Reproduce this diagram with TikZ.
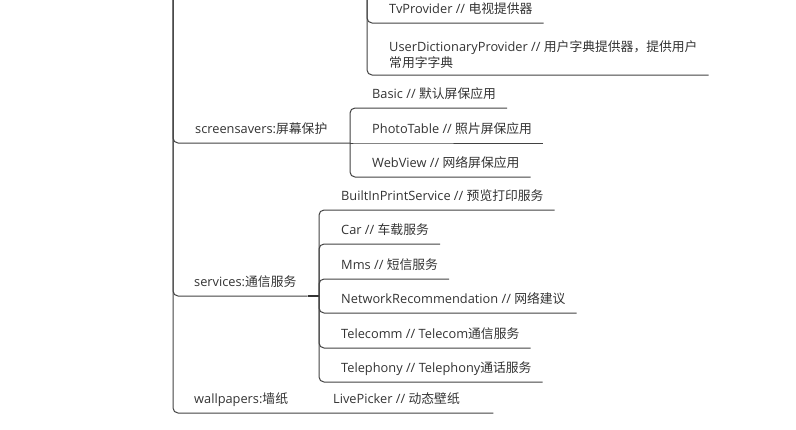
\documentclass[tikz,border=0pt]{standalone}
\usepackage{fontspec}
\setmainfont{Open Sans}
\newfontfamily\cjk{Noto Sans CJK SC}
\definecolor{branchgray}{HTML}{424242}
\definecolor{topictext}{HTML}{333333}

\begin{document}
\begin{tikzpicture}[x=1pt, y=-1pt,
	topic/.style={anchor=south west, inner xsep=11pt, inner ysep=6pt, text height=9.5pt, text depth=3pt, text=topictext, font=\fontsize{12.8}{16}\selectfont, align=left},
	branch/.style={draw=branchgray, line width=1pt, rounded corners=5pt}]
	\useasboundingbox (0,0) rectangle (796,429);
	% Topics:
	\node[topic] (tvp) at (378, 23) {TvProvider // {\cjk 电视提供器}};
	\node[topic, text height={}, text depth={}] (udp) at (378, 75) {UserDictionaryProvider // {\cjk 用户字典提供器，提供用户}\\{\cjk 常用字字典}};
	\node[topic] (scr) at (184, 143) {screensavers:{\cjk 屏幕保护}};
	\node[topic] (basic) at (361, 108) {Basic // {\cjk 默认屏保应用}};
	\node[topic] (photo) at (361, 143) {PhotoTable // {\cjk 照片屏保应用}};
	\node[topic] (webview) at (361, 177) {WebView // {\cjk 网络屏保应用}};
	\node[topic] (svc) at (183, 296) {services:{\cjk 通信服务}};
	\node[topic] (bips) at (330, 210) {BuiltInPrintService // {\cjk 预览打印服务}};
	\node[topic] (car) at (330, 244) {Car // {\cjk 车载服务}};
	\node[topic] (mms) at (330, 279) {Mms // {\cjk 短信服务}};
	\node[topic] (netrec) at (330, 313) {NetworkRecommendation // {\cjk 网络建议}};
	\node[topic] (tcom) at (330, 348) {Telecomm // Telecom{\cjk 通信服务}};
	\node[topic] (tphn) at (330, 382) {Telephony // Telephony{\cjk 通话服务}};
	\node[topic] (wall) at (183, 413) {wallpapers:{\cjk 墙纸}};
	\node[topic, text width=149pt, align=flush left] (live) at (322, 413) {LivePicker // {\cjk 动态壁纸}};
	% Forks:
	\coordinate (topfork) at (367, 0);
	\coordinate (trunk) at (173, 0);
	\coordinate (scrfork) at (350, 143);
	\coordinate (svcfork) at (319, 296);
	% Branches:
	\draw[branch] (topfork) |- (tvp.south west) -- (tvp.south east);
	\draw[branch] (topfork) |- (udp.south west) -- (udp.south east);
	\draw[branch] (trunk) |- (scr.south west) -- (scr.south east) -- (scrfork);
	\draw[branch] (scrfork) |- (basic.south west) -- (basic.south east);
	\draw[branch] (scrfork) -- (photo.south west) -- (photo.south east);
	\draw[branch] (scrfork) |- (webview.south west) -- (webview.south east);
	\draw[branch] (trunk) |- (svc.south west) -- (svc.south east);
	\draw[branch, draw=topictext, line width=2pt] (svc.south east) -- (svcfork);
	\foreach \kid in {bips, car, mms, netrec, tcom, tphn}
		\draw[branch] (svcfork) |- (\kid.south west) -- (\kid.south east);
	\draw[branch] (trunk) |- (wall.south west) -- (wall.south east) -- (live.south west) -- (live.south east);
\end{tikzpicture}
\end{document}
